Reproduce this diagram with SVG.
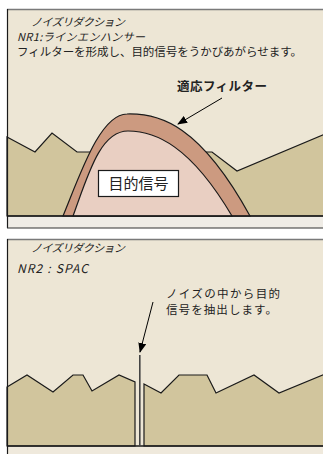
<svg xmlns="http://www.w3.org/2000/svg" width="323" height="454" viewBox="0 0 323 454">
<style>
.jp{font-family:"Noto Sans CJK JP","Liberation Sans",sans-serif;fill:#222}
.it{font-style:italic}
.tan{fill:#d1c59d;stroke:#1a1a1a;stroke-width:1.2}
</style>
<defs>
<marker id="ah" markerWidth="10" markerHeight="8" refX="9" refY="4" orient="auto" markerUnits="userSpaceOnUse">
<path d="M0,0 L10,4 L0,8 Z" fill="#000"/>
</marker>
</defs>

<g id="panel1">
<rect x="7" y="9" width="330" height="219" fill="#ede6d5"/>
<rect x="7" y="216" width="330" height="12" fill="#efece6"/>
<polygon class="tan" points="7,137 35,152 52,133 77,152 212,152 237,171 325,134 325,216 7,216"/>
<path d="M63,216 C80,175 100,114 127,114 C160,113 200,125 250,216 Z" fill="#cc9a80" stroke="#1a1a1a" stroke-width="1.2"/>
<path d="M73,216 C88,175 100,131 128,131 C155,131 190,145 232,216 Z" fill="#e9cfc2" stroke="#1a1a1a" stroke-width="1.2"/>
<line x1="7" y1="216" x2="323" y2="216" stroke="#1a1a1a" stroke-width="1.3"/>
<line x1="7" y1="9.5" x2="323" y2="9.5" stroke="#7a7a7a" stroke-width="1.5"/>
<line x1="7.5" y1="9" x2="7.5" y2="228" stroke="#1a1a1a" stroke-width="1.2"/>
<line x1="7" y1="228" x2="323" y2="228" stroke="#333" stroke-width="1.2"/>
</g>

<g id="title1">
<text class="jp it" x="31" y="26" font-size="11" textLength="94" lengthAdjust="spacing">ノイズリダクション</text>
<text class="jp it" x="17" y="41" font-size="11" textLength="128" lengthAdjust="spacing">NR1:ラインエンハンサー</text>
<text class="jp" x="17" y="56" font-size="11.5" textLength="285" lengthAdjust="spacing">フィルターを形成し、目的信号をうかびあがらせます。</text>
</g>

<g id="label-filter">
<text class="jp" x="177" y="91" font-size="12.5" font-weight="bold" textLength="90" lengthAdjust="spacing">適応フィルター</text>
</g>

<g id="label-signal">
<rect x="98.5" y="170.5" width="80" height="26" fill="#fff" stroke="#1a1a1a" stroke-width="1.2"/>
<text class="jp" x="138.5" y="189" font-size="15" text-anchor="middle">目的信号</text>
</g>

<g id="panel2">
<rect x="7" y="239" width="330" height="215" fill="#ede6d5"/>
<rect x="7" y="446" width="330" height="8" fill="#efe9dc"/>
<polygon class="tan" points="7,387 27,375 53,392 73,375 83,375 92,391 119,375 135,382 135,446 7,446"/>
<polygon class="tan" points="144,384 161,393 179,375 207,375 216,393 254,375 279,393 325,374 325,446 144,446"/>
<line x1="7" y1="446" x2="323" y2="446" stroke="#1a1a1a" stroke-width="1.5"/>
<line x1="7" y1="239.5" x2="323" y2="239.5" stroke="#7a7a7a" stroke-width="1.5"/>
<line x1="7.5" y1="239" x2="7.5" y2="454" stroke="#1a1a1a" stroke-width="1.2"/>
</g>

<g id="spike">
<line x1="139.8" y1="355" x2="139.8" y2="446" stroke="#444" stroke-width="1.6"/>
</g>

<g id="title2">
<text class="jp it" x="31" y="252" font-size="11" textLength="94" lengthAdjust="spacing">ノイズリダクション</text>
<text class="jp it" x="17" y="273" font-size="12" textLength="71" lengthAdjust="spacing">NR2 : SPAC</text>
</g>

<g id="label-extract">
<text class="jp" x="166" y="297.5" font-size="11.5" textLength="114" lengthAdjust="spacing">ノイズの中から目的</text>
<text class="jp" x="166" y="314" font-size="11.5" textLength="111" lengthAdjust="spacing">信号を抽出します。</text>
</g>

<g id="connectors">
<line x1="222" y1="98" x2="178" y2="124" stroke="#000" stroke-width="1" marker-end="url(#ah)"/>
<line x1="153" y1="302" x2="140" y2="352" stroke="#000" stroke-width="1" marker-end="url(#ah)"/>
</g>
</svg>
